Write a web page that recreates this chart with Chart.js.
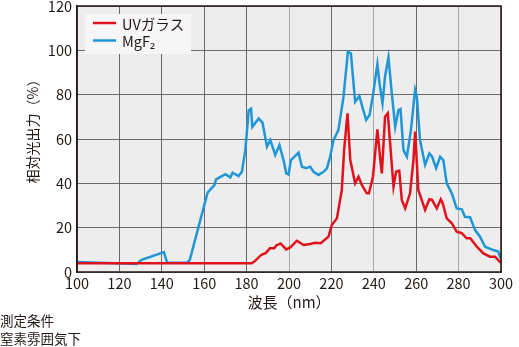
<!DOCTYPE html>
<html><head><meta charset="utf-8">
<script src="https://cdn.jsdelivr.net/npm/chart.js@4.4.0/dist/chart.umd.min.js"></script>
<style>
html,body{margin:0;padding:0;background:#fff;}
#wrap{position:relative;width:519px;height:347px;}
canvas{position:absolute;left:0;top:0;}
.note{position:absolute;left:0;font:13.5px "Noto Sans CJK JP";color:#231815;line-height:1;white-space:nowrap;}
</style></head><body>
<div id="wrap"><canvas id="c" width="519" height="347"></canvas>
<div class="note" style="top:314px">測定条件</div>
<div class="note" style="top:332px">窒素雰囲気下</div>
</div>
<script>
const seriesNames = ['UVガラス', 'MgF₂'];
const axisTitles = ['波長（nm）', '相対光出力（%）'];
const xTickValues = [100,120,140,160,180,200,220,240,260,280,300];
const yTickValues = [0,20,40,60,80,100,120];

const uvWavelength = [100,182.5,184,187,189,191,193,194,196,198.7,200.6,203.7,206.9,210,212.4,215,217.1,218.6,220.2,222.6,224.9,226,227.6,228.9,231.2,232.8,234.4,236.7,237.7,239.6,241.7,243,243.8,245.3,246.6,249.3,250.5,252,253.2,254.8,257.1,258.7,259.5,261,264.2,266.2,267.5,269.7,271.6,272.5,274.4,276.8,279.1,281.5,283.8,285.5,288.6,291.7,294.8,297.2,299.8];
const uvOutput =     [3.9,3.9,5,7.8,8.5,10.7,10.7,12,12.9,10.2,11.1,14.1,12.2,12.6,13.2,13,14.7,15.9,21.2,24.2,37,55,71.6,50.5,40,43,39.2,35.5,35.5,43,64.4,51.3,44.5,70,71.6,38.5,45.2,45.7,32.5,28.7,35.5,50.5,63.3,37,28,32.8,32.5,28.7,32.8,31,24.2,22,18.2,17.5,15.2,15.2,11.4,8.4,6.9,6.9,4.2];

const mgf2Wavelength = [100,128,130.5,141,142.5,152,153.2,161.6,164.8,165.6,170,172.3,173.4,176.2,177.8,179.4,181,182.1,182.7,185.7,187.5,189.6,191.2,193.5,195.5,197.4,198.7,199.8,200.9,204.5,206.1,208.1,210,211.6,213.9,216.3,217.9,219.4,221,223.3,225.7,227.8,229.2,231.2,233.2,234.8,236.4,238,239.6,241.7,242.7,244.1,245.3,246.9,248.5,250.1,251.6,252.6,254,255.6,257.5,259.5,260.3,261.8,263.4,264.2,266.2,267.5,269.4,271.3,272.8,274.4,276.8,279.1,281.5,283,285.4,287.8,290.1,292.5,296.4,298.7,299.8];
const mgf2Output =     [4.5,3.6,5.5,9,4.2,4.2,5.5,35.8,39.2,41.8,44.1,42.7,44.8,43.3,45.2,55,73,73.7,65.5,69.3,67.4,56.5,59.5,52.8,57.3,50.5,44.5,44,50.5,53.8,47.5,46.8,47.5,45.2,43.8,45.2,46.8,52,59.5,64,79,99.4,98.6,76.8,79.4,73.8,68.6,70.8,79.8,93.8,85.1,76.1,88.1,96.8,80.6,65.5,73,73.5,55,52,64,82.1,79,59.5,52,48.3,53.5,52,46.8,52,50.5,40,35.5,28.7,28.3,24.9,24.7,18.9,15.9,11.4,9.9,9.2,6.2];

const toPoints = (xs, ys) => xs.map((x, i) => ({x: x, y: ys[i]}));
const INK = '#231815';
const FONT = '"Noto Sans CJK JP", "Noto Sans", sans-serif';

const framePlugin = {
  id: 'frame',
  beforeDatasetsDraw(chart) {
    const {ctx, chartArea: a} = chart;
    ctx.save();
    ctx.fillStyle = '#ededed';
    ctx.fillRect(a.left, a.top, a.right - a.left, a.bottom - a.top);
    ctx.restore();
    chart.scales.x.drawGrid(a);
    chart.scales.y.drawGrid(a);
  },
  afterDatasetsDraw(chart) {
    const {ctx, chartArea: a} = chart;
    ctx.save();
    ctx.fillStyle = '#f6f6f6';
    ctx.fillRect(a.left + 8, a.top + 8, 106, 40);
    chart.data.datasets.forEach((ds, i) => {
      const y = a.top + 17 + i * 17.5;
      ctx.strokeStyle = ds.borderColor;
      ctx.lineWidth = 2.5;
      ctx.beginPath();
      ctx.moveTo(a.left + 16, y);
      ctx.lineTo(a.left + 39, y);
      ctx.stroke();
      ctx.fillStyle = INK;
      ctx.font = '14.5px ' + FONT;
      ctx.textBaseline = 'middle';
      ctx.textAlign = 'left';
      ctx.fillText(ds.label, a.left + 45, y + 1);
    });
    ctx.strokeStyle = INK;
    ctx.lineWidth = 1.5;
    ctx.strokeRect(a.left, a.top, a.right - a.left, a.bottom - a.top);
    ctx.translate(33, 128);
    ctx.rotate(-Math.PI / 2);
    ctx.fillStyle = INK;
    ctx.font = '14px ' + FONT;
    ctx.textAlign = 'center';
    ctx.textBaseline = 'middle';
    ctx.fillText(axisTitles[1], 0, 0);
    ctx.restore();
  }
};

const gridColor = (v) => ([200, 240, 280].includes(v) ? '#a9a7a7' : '#6e6767');

new Chart(document.getElementById('c'), {
  type: 'line',
  data: {
    datasets: [
      { label: seriesNames[0], data: toPoints(uvWavelength, uvOutput), borderColor: '#e2121d', borderWidth: 2.5, pointRadius: 0, tension: 0, fill: false },
      { label: seriesNames[1], data: toPoints(mgf2Wavelength, mgf2Output), borderColor: '#1f96d7', borderWidth: 2.5, pointRadius: 0, tension: 0, fill: false }
    ]
  },
  options: {
    responsive: false,
    animation: false,
    devicePixelRatio: 1,
    layout: { padding: { top: 6, right: 18, left: 0, bottom: 32 } },
    plugins: { legend: { display: false }, tooltip: { enabled: false } },
    scales: {
      x: {
        type: 'linear', min: 100, max: 300,
        afterBuildTicks: (s) => { s.ticks = xTickValues.map(v => ({value: v})); },
        afterFit: (s) => { s.height = 43; s.paddingLeft = 0; s.paddingRight = 0; },
        ticks: { color: INK, font: { family: FONT, size: 14.5 }, padding: 3, maxRotation: 0 },
        grid: { color: (c) => gridColor(c.tick && c.tick.value), lineWidth: 1, drawTicks: false },
        border: { display: true, color: INK, width: 1.5 },
        title: { display: true, text: axisTitles[0], color: INK, font: { family: FONT, size: 15 }, padding: { top: 0, bottom: 4 } }
      },
      y: {
        min: 0, max: 120,
        afterBuildTicks: (s) => { s.ticks = yTickValues.map(v => ({value: v})); },
        afterFit: (s) => { s.width = 77; s.paddingTop = 0; s.paddingBottom = 0; },
        ticks: { color: INK, font: { family: FONT, size: 14.5 }, padding: 5 },
        grid: { color: '#6e6767', lineWidth: 1, drawTicks: false },
        border: { display: true, color: INK, width: 1.5 }
      }
    }
  },
  plugins: [framePlugin]
});
</script>
</body></html>
